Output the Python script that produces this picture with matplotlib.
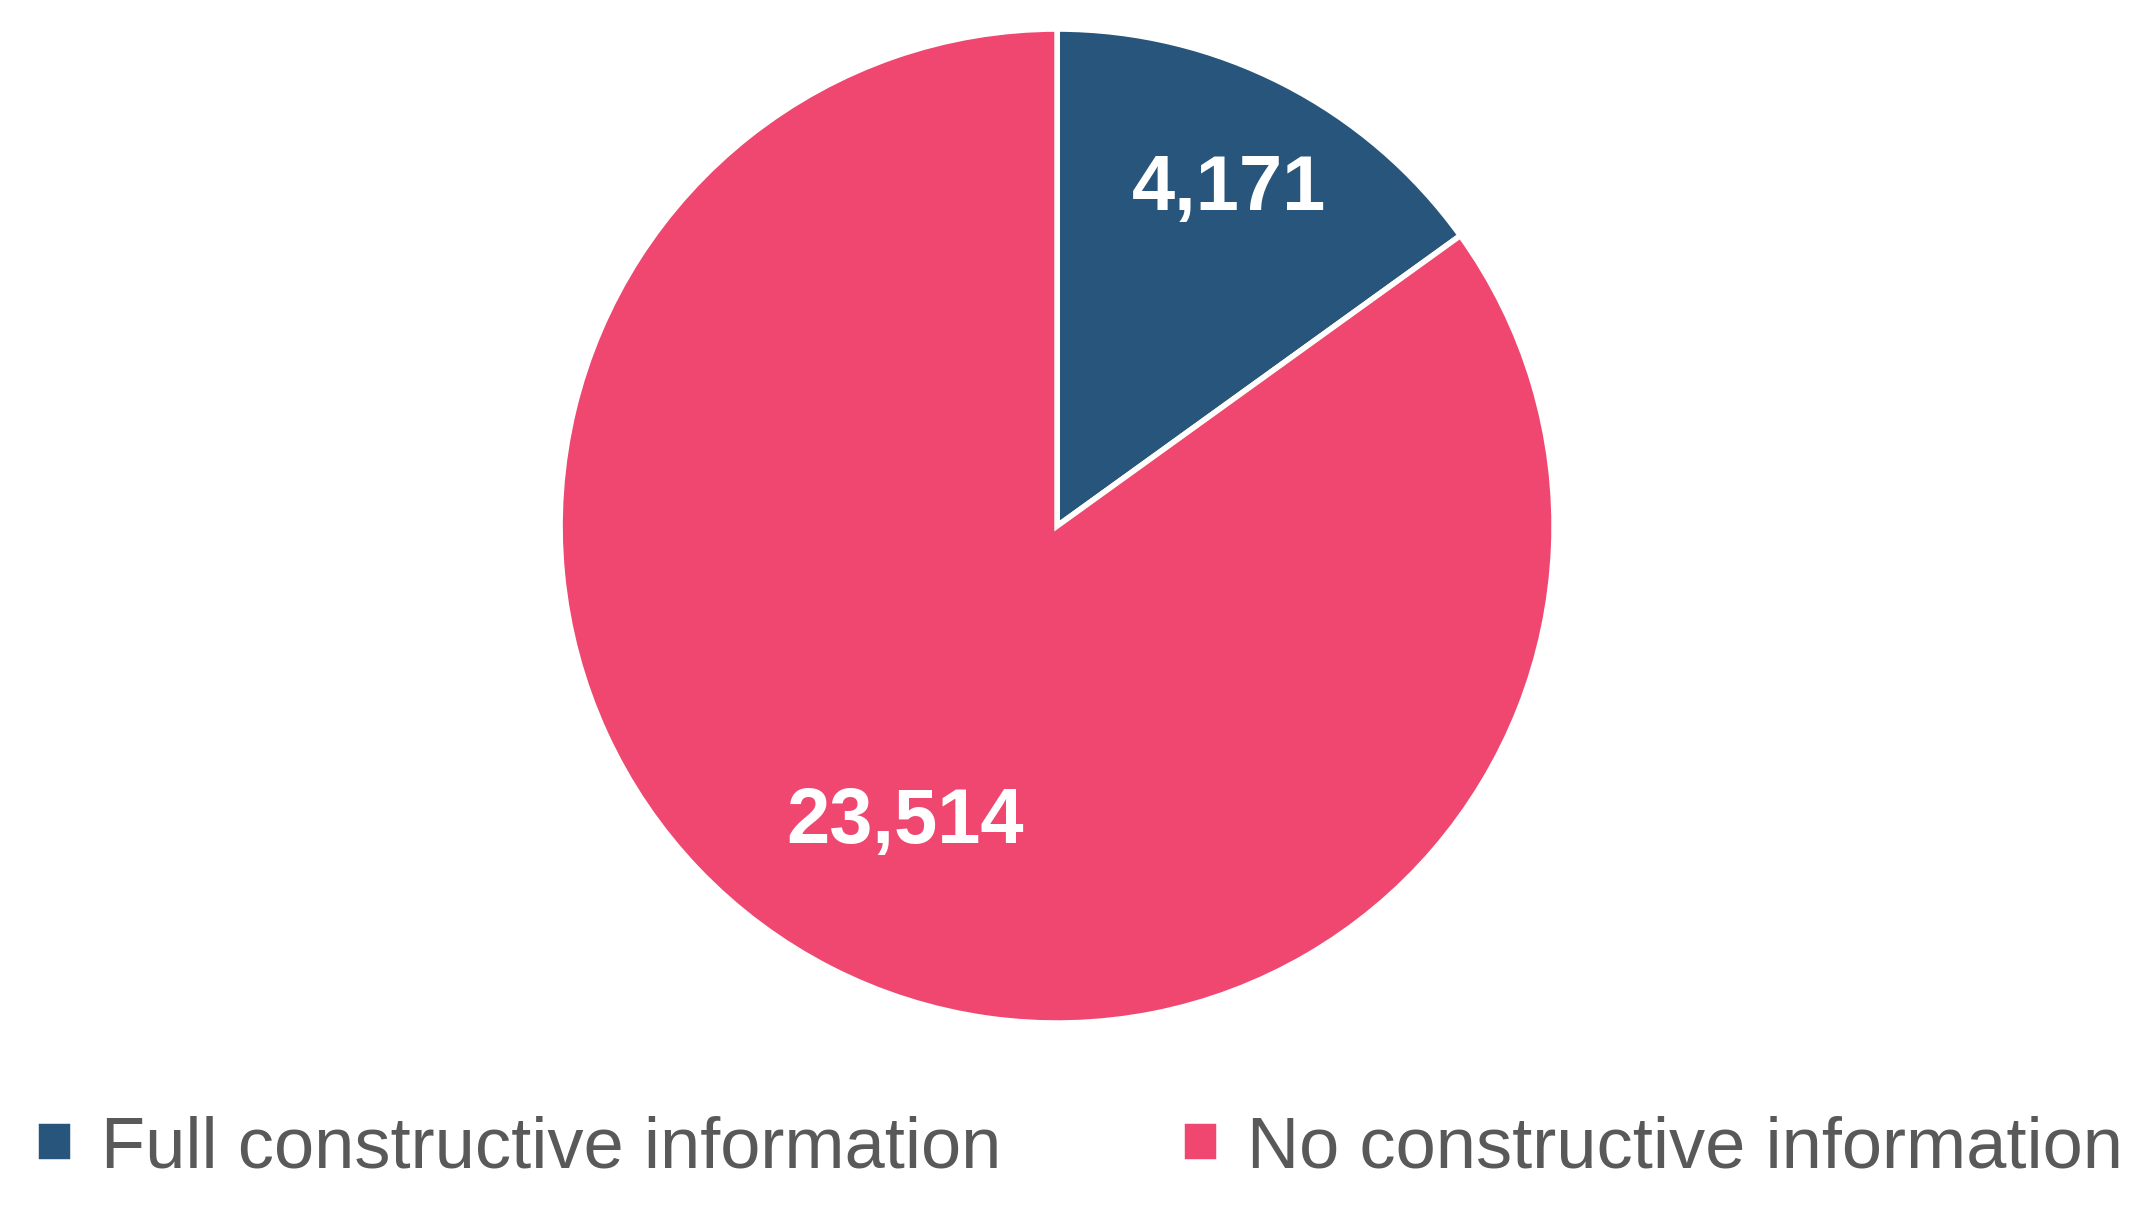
import matplotlib
matplotlib.use("Agg")
import matplotlib.pyplot as plt
import numpy as np

categories = ["Full constructive information", "No constructive information"]
values = [4171, 23514]
labels = ["4,171", "23,514"]
colors = ["#27557C", "#EF476F"]

plt.rcParams['font.family'] = ['Liberation Sans', 'DejaVu Sans']
fig = plt.figure(figsize=(21.47, 12.09), dpi=100)
ax = fig.add_axes([0.2585, 0.1497, 0.4677, 0.8304])
wedges, _ = ax.pie(values, colors=colors, startangle=90, counterclock=False,
                   wedgeprops=dict(edgecolor="white", linewidth=4))
dists = [0.76, 0.67]
for w, lab, d in zip(wedges, labels, dists):
    ang = np.deg2rad((w.theta1 + w.theta2) / 2)
    ax.text(d*np.cos(ang), d*np.sin(ang), lab, ha="center", va="center",
            color="white", fontsize=56, fontweight="bold")
ax.set_aspect("equal")
ax.set_xlim(-1.01, 1.01)
ax.set_ylim(-1.01, 1.01)
fig.legend(wedges, categories, loc="center", bbox_to_anchor=(0.503, 0.05), ncol=2,
           frameon=False, fontsize=52, labelcolor="#595959", handlelength=0.5,
           handleheight=0.5, columnspacing=2.5, handletextpad=0.4)
fig.savefig("out.png", dpi=100)
